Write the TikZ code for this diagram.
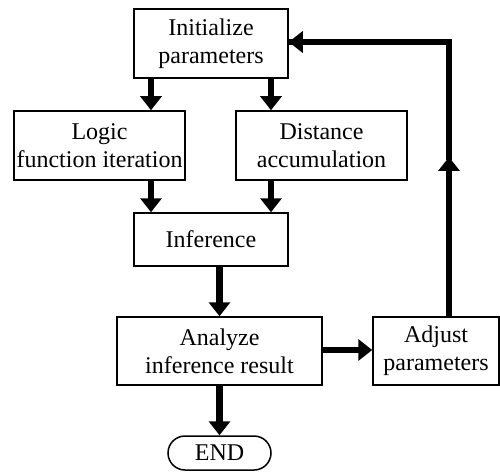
\documentclass[tikz,border=0pt]{standalone}
\usepackage{fontspec}
\setmainfont{Liberation Serif}
\usetikzlibrary{arrows.meta}
\begin{document}
\begin{tikzpicture}[x=1pt,y=-1pt,
  box/.style={draw, line width=1.5pt, inner sep=0pt, align=center, font=\fontsize{24}{28}\selectfont},
  flow/.style={line width=6.5pt, -{Triangle[width=21pt,length=14pt]}},
  seg/.style={line width=6.5pt, miter limit=10}]
\useasboundingbox (0,0) rectangle (500,473);
\node[box, minimum width=154pt, minimum height=69pt] (init) at (211,43.5) {Initialize\\parameters};
\node[box, minimum width=171pt, minimum height=69pt] (logic) at (99.5,145.5) {Logic\\function iteration};
\node[box, minimum width=171pt, minimum height=69pt] (dist) at (321.5,145.5) {Distance\\accumulation};
\node[box, minimum width=154pt, minimum height=53pt] (inf) at (211,239.5) {Inference};
\node[box, minimum width=205pt, minimum height=68pt] (ana) at (219.5,351) {Analyze\\inference result};
\node[box, minimum width=126pt, minimum height=68pt] (adj) at (436,351) {Adjust\\parameters};
\node[box, minimum width=103pt, minimum height=34pt, rounded corners=17pt] (end) at (219.5,453) {END};
\draw[flow] (init.south -| 151,0) -- (151,0 |- logic.north);
\draw[flow] (init.south -| 271,0) -- (271,0 |- dist.north);
\draw[flow] (logic.south -| 151,0) -- (151,0 |- inf.north);
\draw[flow] (dist.south -| 271,0) -- (271,0 |- inf.north);
\draw[flow] (inf.south -| 219.5,0) -- (ana.north);
\draw[flow] (ana.south) -- (end.north);
\draw[flow] (ana.east |- 0,350) -- (adj.west |- 0,350);
\coordinate (mid) at (449,157);
\coordinate (corner) at (449,42);
\draw[flow] (adj.north -| mid) -- (mid);
\draw[seg] (449,160) -- (corner) -- (corner -| init.east);
\draw[flow] (corner) -- (corner -| init.east);
\end{tikzpicture}
\end{document}
